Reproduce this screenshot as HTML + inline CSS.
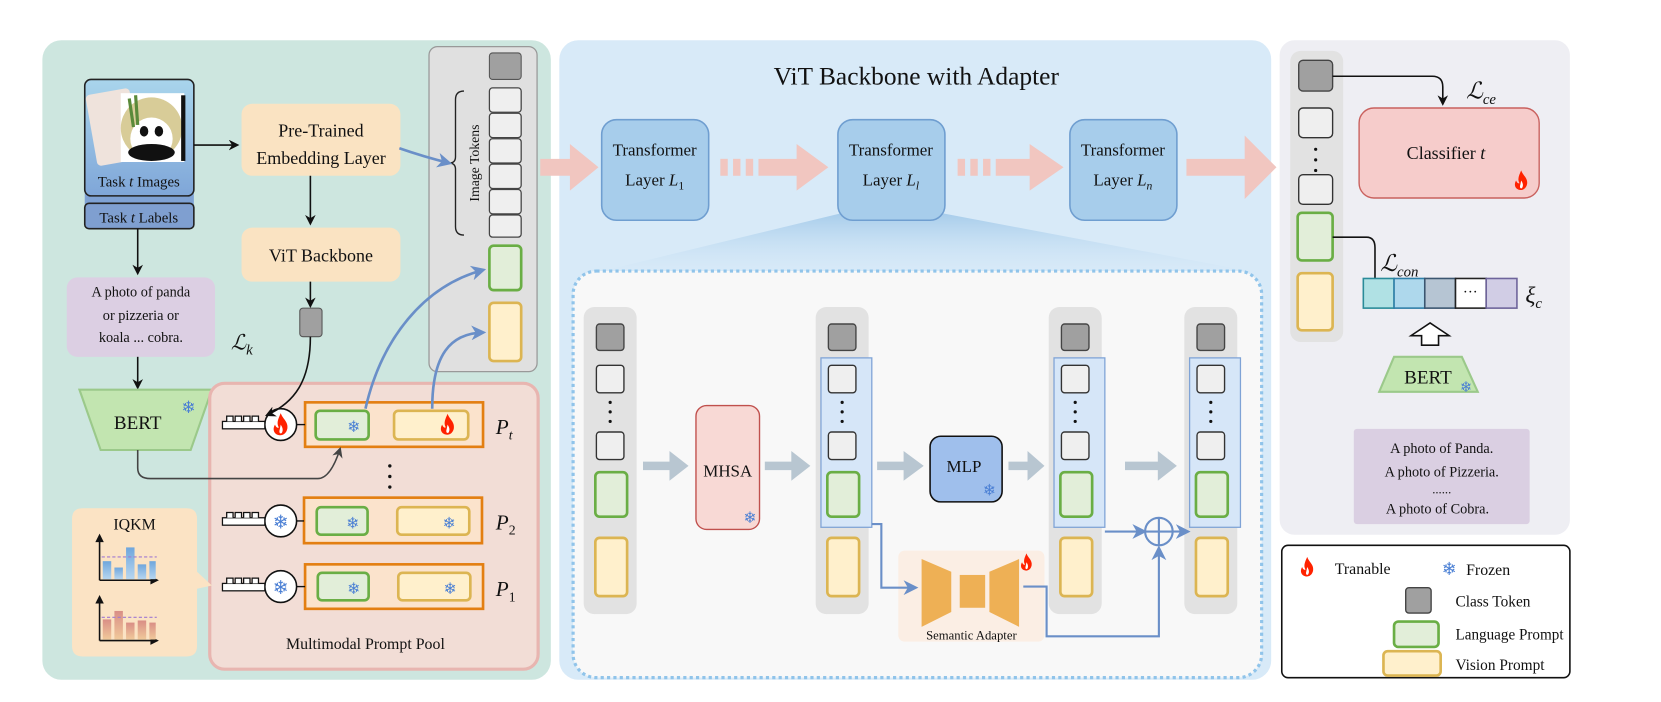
<!DOCTYPE html>
<html><head><meta charset="utf-8"><style>
html,body{margin:0;padding:0;background:#fff;}
svg{display:block;}
text{font-family:"Liberation Serif",serif;fill:#111;}
.sf{fill:#4a7fd4;font-family:"DejaVu Sans",sans-serif;}
</style></head><body>
<svg width="1661" height="702" viewBox="0 0 1568 663" preserveAspectRatio="none" xmlns="http://www.w3.org/2000/svg">
<defs>
<symbol id="fire" viewBox="0 0 20 24"><path d="M10 0 C12 6 18 9 17 16 C16 22 11 24 8 23 C3 22 1 17 4 12 C5 15 7 16 8 15 C5 10 8 5 10 0Z" fill="#f20"/><path d="M10 12 C12 15 13 18 11 21 C9 22 8 20 9 17Z" fill="#fff"/></symbol>
<marker id="ah" markerWidth="10" markerHeight="10" refX="8" refY="5" orient="auto" markerUnits="userSpaceOnUse"><path d="M0 0 L10 5 L0 10 L3 5Z" fill="#111"/></marker>
<marker id="ahb" markerWidth="14" markerHeight="14" refX="11" refY="7" orient="auto" markerUnits="userSpaceOnUse"><path d="M0 0 L14 7 L0 14 L4 7Z" fill="#6a8fc8"/></marker>
<marker id="ahg" markerWidth="10" markerHeight="10" refX="8" refY="5" orient="auto" markerUnits="userSpaceOnUse"><path d="M0 0 L10 5 L0 10 L3 5Z" fill="#444"/></marker>
<linearGradient id="imgG" x1="0" y1="0" x2="0" y2="1"><stop offset="0" stop-color="#a9d5ec"/><stop offset="1" stop-color="#7fa6d8"/></linearGradient>
<linearGradient id="fun" x1="0" y1="0" x2="0" y2="1"><stop offset="0" stop-color="#a5cbea"/><stop offset="1" stop-color="#d8eaf8" stop-opacity="0.3"/></linearGradient>
<linearGradient id="bar1" x1="0" y1="0" x2="0" y2="1"><stop offset="0" stop-color="#6fa6dc"/><stop offset="1" stop-color="#b7d6f0"/></linearGradient>
<linearGradient id="bar2" x1="0" y1="0" x2="0" y2="1"><stop offset="0" stop-color="#d98e86"/><stop offset="1" stop-color="#f0c99a"/></linearGradient>
</defs>

<!-- panels -->
<rect x="40" y="38" width="480" height="604" rx="18" fill="#cde6df"/>
<rect x="528" y="38" width="672" height="604" rx="18" fill="#d8eaf8"/>
<rect x="1208" y="38" width="274" height="467" rx="14" fill="#eeeef3"/>
<rect x="1210" y="515" width="272" height="125" rx="6" fill="#fff" stroke="#111" stroke-width="1.5"/>

<!-- ===== LEFT ===== -->
<rect x="80" y="176" width="103" height="22" fill="#7fa2d4"/>
<rect x="80" y="75" width="103" height="110" rx="6" fill="url(#imgG)" stroke="#222" stroke-width="1.5"/>
<rect x="86" y="86" width="42" height="68" rx="4" fill="#efe3dc" transform="rotate(-10 107 120)"/>
<rect x="114" y="88" width="60" height="65" fill="#fff"/>
<circle cx="143" cy="121" r="29" fill="#d8cc98"/>
<circle cx="143" cy="131" r="20" fill="#fff"/>
<ellipse cx="143" cy="144" rx="22" ry="8" fill="#111"/>
<ellipse cx="136" cy="124" rx="4" ry="5" fill="#111"/>
<ellipse cx="150" cy="124" rx="4" ry="5" fill="#111"/>
<path d="M122 93 L126 120 M128 90 L130 118" stroke="#5a8a3a" stroke-width="3"/>
<rect x="171" y="90" width="4" height="62" fill="#111"/>
<text x="131" y="176" font-size="14" text-anchor="middle">Task <tspan font-style="italic">t</tspan> Images</text>
<rect x="80" y="192" width="103" height="24" rx="4" fill="#7f9fd0" stroke="#222" stroke-width="1.5"/>
<text x="131" y="210" font-size="14" text-anchor="middle">Task <tspan font-style="italic">t</tspan> Labels</text>

<line x1="183" y1="137" x2="224" y2="137" stroke="#111" stroke-width="1.5" marker-end="url(#ah)"/>
<rect x="228" y="98" width="150" height="68" rx="10" fill="#fae3c2"/>
<text x="303" y="129" font-size="17" text-anchor="middle">Pre-Trained</text>
<text x="303" y="155" font-size="17" text-anchor="middle">Embedding Layer</text>
<line x1="293" y1="166" x2="293" y2="211" stroke="#111" stroke-width="1.5" marker-end="url(#ah)"/>
<rect x="228" y="215" width="150" height="51" rx="10" fill="#fae3c2"/>
<text x="303" y="247" font-size="17" text-anchor="middle">ViT Backbone</text>
<line x1="293" y1="266" x2="293" y2="289" stroke="#111" stroke-width="1.5" marker-end="url(#ah)"/>
<rect x="283" y="291" width="21" height="27" rx="3" fill="#a0a0a0" stroke="#555"/>

<line x1="130" y1="216" x2="130" y2="258" stroke="#111" stroke-width="1.5" marker-end="url(#ah)"/>
<rect x="63" y="262" width="140" height="75" rx="10" fill="#dccfe3"/>
<text x="133" y="280" font-size="13.5" text-anchor="middle">A photo of panda</text>
<text x="133" y="302" font-size="13.5" text-anchor="middle">or pizzeria or</text>
<text x="133" y="323" font-size="13.5" text-anchor="middle">koala ... cobra.</text>
<line x1="130" y1="337" x2="130" y2="366" stroke="#111" stroke-width="1.5" marker-end="url(#ah)"/>
<polygon points="75,368 200,368 180,425 95,425" fill="#c2e5b0" stroke="#9bc98a" stroke-width="2"/>
<text x="130" y="405" font-size="18" text-anchor="middle">BERT</text>
<text x="178" y="390" font-size="16" class="sf" text-anchor="middle">❄</text>

<text x="218" y="330" font-size="20" font-style="italic">ℒ<tspan font-size="14" dy="5">k</tspan></text>

<!-- token panel -->
<rect x="405" y="44" width="102" height="307" rx="8" fill="#e0e0e0" stroke="#999" stroke-width="1.2"/>
<rect x="462" y="50" width="30" height="25" rx="3" fill="#a0a0a0" stroke="#555"/>
<g fill="#efefef" stroke="#444" stroke-width="1.2">
<rect x="462" y="83" width="30" height="23" rx="3"/><rect x="462" y="107" width="30" height="23" rx="3"/>
<rect x="462" y="131" width="30" height="23" rx="3"/><rect x="462" y="155" width="30" height="23" rx="3"/>
<rect x="462" y="179" width="30" height="23" rx="3"/><rect x="462" y="203" width="30" height="21" rx="3"/>
</g>
<path d="M438 86 Q430 86 430 94 V148 Q430 154 424 154 Q430 154 430 160 V214 Q430 222 438 222" fill="none" stroke="#222" stroke-width="1.3"/>
<text x="0" y="0" font-size="13" text-anchor="middle" transform="translate(452 154) rotate(-90)">Image   Tokens</text>
<rect x="462" y="232" width="30" height="42" rx="4" fill="#e2eed9" stroke="#6aae45" stroke-width="2.5"/>
<rect x="462" y="286" width="30" height="55" rx="4" fill="#fff0cc" stroke="#dcb552" stroke-width="2.5"/>
<path d="M377 140 Q400 148 424 154" fill="none" stroke="#6a8fc8" stroke-width="2.5" marker-end="url(#ahb)"/>

<!-- prompt pool -->
<rect x="198" y="362" width="310" height="270" rx="14" fill="#f2ddd6" stroke="#e8b5b0" stroke-width="3"/>
<rect x="288" y="380" width="168" height="42" fill="#fbe3cc" stroke="#e37f12" stroke-width="2.5"/>
<rect x="298" y="388" width="50" height="27" rx="4" fill="#e2eed9" stroke="#6aae45" stroke-width="2.5"/>
<rect x="372" y="388" width="70" height="27" rx="4" fill="#fff0cc" stroke="#dcb552" stroke-width="2.5"/>
<text x="334" y="408" font-size="15" class="sf" text-anchor="middle">❄</text>
<use href="#fire" x="414" y="390" width="17" height="22"/>
<line x1="280" y1="401" x2="288" y2="401" stroke="#111" stroke-width="1.3"/>
<circle cx="265" cy="401" r="15" fill="#fff" stroke="#111" stroke-width="1.5"/>
<use href="#fire" x="256" y="390" width="18" height="22"/>
<rect x="210" y="398" width="40" height="7" fill="#fff" stroke="#111" stroke-width="1.2"/>
<path d="M214 398 v-5 h6 v5 M222 398 v-5 h6 v5 M230 398 v-5 h6 v5 M238 398 v-5 h6 v5" fill="#fff" stroke="#111" stroke-width="1.2"/>

<circle cx="368" cy="440" r="1.6" fill="#111"/><circle cx="368" cy="450" r="1.6" fill="#111"/><circle cx="368" cy="460" r="1.6" fill="#111"/>

<g transform="translate(-1 90)">
<rect x="288" y="380" width="168" height="43" fill="#fbe3cc" stroke="#e37f12" stroke-width="2.5"/>
<rect x="300" y="389" width="48" height="26" rx="4" fill="#e2eed9" stroke="#6aae45" stroke-width="2.5"/>
<rect x="376" y="389" width="68" height="26" rx="4" fill="#fff0cc" stroke="#dcb552" stroke-width="2.5"/>
<text x="334" y="409" font-size="15" class="sf" text-anchor="middle">❄</text>
<text x="425" y="409" font-size="15" class="sf" text-anchor="middle">❄</text>
<line x1="280" y1="402" x2="288" y2="402" stroke="#111" stroke-width="1.3"/>
<circle cx="266" cy="402" r="15" fill="#fff" stroke="#111" stroke-width="1.5"/>
<text x="266" y="409" font-size="18" class="sf" text-anchor="middle">❄</text>
<rect x="211" y="399" width="40" height="7" fill="#fff" stroke="#111" stroke-width="1.2"/>
<path d="M215 399 v-5 h6 v5 M223 399 v-5 h6 v5 M231 399 v-5 h6 v5 M239 399 v-5 h6 v5" fill="#fff" stroke="#111" stroke-width="1.2"/>
</g>
<g transform="translate(0 153)">
<rect x="288" y="380" width="168" height="42" fill="#fbe3cc" stroke="#e37f12" stroke-width="2.5"/>
<rect x="300" y="388" width="48" height="26" rx="4" fill="#e2eed9" stroke="#6aae45" stroke-width="2.5"/>
<rect x="376" y="388" width="68" height="26" rx="4" fill="#fff0cc" stroke="#dcb552" stroke-width="2.5"/>
<text x="334" y="408" font-size="15" class="sf" text-anchor="middle">❄</text>
<text x="425" y="408" font-size="15" class="sf" text-anchor="middle">❄</text>
<line x1="280" y1="401" x2="288" y2="401" stroke="#111" stroke-width="1.3"/>
<circle cx="265" cy="401" r="15" fill="#fff" stroke="#111" stroke-width="1.5"/>
<text x="265" y="408" font-size="18" class="sf" text-anchor="middle">❄</text>
<rect x="210" y="398" width="40" height="7" fill="#fff" stroke="#111" stroke-width="1.2"/>
<path d="M214 398 v-5 h6 v5 M222 398 v-5 h6 v5 M230 398 v-5 h6 v5 M238 398 v-5 h6 v5" fill="#fff" stroke="#111" stroke-width="1.2"/>
</g>
<text x="468" y="410" font-size="20" font-style="italic">P<tspan font-size="13" dy="5">t</tspan></text>
<text x="468" y="500" font-size="20" font-style="italic">P<tspan font-size="13" dy="5" font-style="normal">2</tspan></text>
<text x="468" y="563" font-size="20" font-style="italic">P<tspan font-size="13" dy="5" font-style="normal">1</tspan></text>
<text x="345" y="613" font-size="15" text-anchor="middle">Multimodal Prompt Pool</text>

<!-- connectors over pool -->
<path d="M293 318 C293 360 278 380 252 392" fill="none" stroke="#111" stroke-width="1.5" marker-end="url(#ah)"/>
<path d="M130 425 V442 Q130 452 142 452 H300 Q312 452 321 424" fill="none" stroke="#444" stroke-width="1.5" marker-end="url(#ahg)"/>
<path d="M345 386 C360 320 400 270 456 255" fill="none" stroke="#6a8fc8" stroke-width="2.5" marker-end="url(#ahb)"/>
<path d="M408 386 C408 335 425 315 456 314" fill="none" stroke="#6a8fc8" stroke-width="2.5" marker-end="url(#ahb)"/>

<!-- IQKM -->
<path d="M78 480 H176 Q186 480 186 490 V540 L200 553 L186 556 V610 Q186 620 176 620 H78 Q68 620 68 610 V490 Q68 480 78 480Z" fill="#fbe3c4"/>
<text x="127" y="500" font-size="15" text-anchor="middle">IQKM</text>
<g stroke="#111" stroke-width="1.5" fill="none">
<path d="M94 548 V508 M94 548 H146" /><path d="M94 605 V566 M94 605 H146"/>
</g>
<path d="M90 512 L94 504 L98 512Z M142 544 L150 548 L142 552Z M90 570 L94 562 L98 570Z M142 601 L150 605 L142 609Z" fill="#111"/>
<rect x="97" y="530" width="8" height="17" fill="url(#bar1)"/><rect x="108" y="536" width="8" height="11" fill="url(#bar1)"/>
<rect x="119" y="517" width="8" height="30" fill="url(#bar1)"/><rect x="130" y="533" width="8" height="14" fill="url(#bar1)"/>
<rect x="141" y="530" width="6" height="17" fill="url(#bar1)"/>
<line x1="96" y1="526" x2="148" y2="526" stroke="#a07ad0" stroke-dasharray="3 2"/>
<rect x="97" y="585" width="8" height="19" fill="url(#bar2)"/><rect x="108" y="577" width="8" height="27" fill="url(#bar2)"/>
<rect x="119" y="588" width="8" height="16" fill="url(#bar2)"/><rect x="130" y="586" width="8" height="18" fill="url(#bar2)"/>
<rect x="141" y="588" width="6" height="16" fill="url(#bar2)"/>
<line x1="96" y1="583" x2="148" y2="583" stroke="#a07ad0" stroke-dasharray="3 2"/>

<!-- ===== MIDDLE ===== -->
<text x="865" y="80" font-size="24" text-anchor="middle">ViT Backbone with Adapter</text>
<polygon points="800,200 882,200 1190,258 560,258" fill="url(#fun)"/>
<g fill="#a7cdeb" stroke="#6f9ed0" stroke-width="1.5">
<rect x="568" y="113" width="101" height="95" rx="14"/>
<rect x="791" y="113" width="101" height="95" rx="14"/>
<rect x="1010" y="113" width="101" height="95" rx="14"/>
</g>
<text x="618" y="147" font-size="16" text-anchor="middle">Transformer</text>
<text x="618" y="175" font-size="16" text-anchor="middle">Layer <tspan font-style="italic">L</tspan><tspan font-size="11" dy="4">1</tspan></text>
<text x="841" y="147" font-size="16" text-anchor="middle">Transformer</text>
<text x="841" y="175" font-size="16" text-anchor="middle">Layer <tspan font-style="italic">L</tspan><tspan font-size="11" dy="4" font-style="italic">l</tspan></text>
<text x="1060" y="147" font-size="16" text-anchor="middle">Transformer</text>
<text x="1060" y="175" font-size="16" text-anchor="middle">Layer <tspan font-style="italic">L</tspan><tspan font-size="11" dy="4" font-style="italic">n</tspan></text>
<g fill="#f1c6c0">
<polygon points="510,150 538,150 538,136 565,158 538,180 538,166 510,166"/>
<rect x="680" y="150" width="7" height="16"/><rect x="692" y="150" width="7" height="16"/><rect x="704" y="150" width="7" height="16"/>
<polygon points="716,150 752,150 752,136 782,158 752,180 752,166 716,166"/>
<rect x="904" y="150" width="7" height="16"/><rect x="916" y="150" width="7" height="16"/><rect x="928" y="150" width="7" height="16"/>
<polygon points="940,150 972,150 972,136 1004,158 972,180 972,166 940,166"/>
<polygon points="1120,150 1175,150 1175,128 1205,158 1175,188 1175,166 1120,166"/>
</g>

<rect x="541" y="256" width="650" height="384" rx="22" fill="#f8f8f8" stroke="#90c4ea" stroke-width="3" stroke-dasharray="3 3"/>
<g fill="#e2e2e2"><rect x="551" y="290" width="50" height="290" rx="10"/><rect x="770" y="290" width="50" height="290" rx="10"/><rect x="990" y="290" width="50" height="290" rx="10"/><rect x="1118" y="290" width="50" height="290" rx="10"/></g>
<g fill="#d6e6f8" stroke="#7fa3d6" stroke-width="1.2"><rect x="775" y="338" width="48" height="160"/><rect x="995" y="338" width="48" height="160"/><rect x="1123" y="338" width="48" height="160"/></g>
<g id="c1">
<rect x="563" y="306" width="26" height="25" rx="3" fill="#a0a0a0" stroke="#444" stroke-width="1.3"/>
<rect x="563" y="345" width="26" height="26" rx="3" fill="#efefef" stroke="#333" stroke-width="1.3"/>
<circle cx="576" cy="380" r="1.5" fill="#111"/><circle cx="576" cy="389" r="1.5" fill="#111"/><circle cx="576" cy="398" r="1.5" fill="#111"/>
<rect x="563" y="408" width="26" height="26" rx="3" fill="#efefef" stroke="#333" stroke-width="1.3"/>
<rect x="562" y="446" width="30" height="42" rx="4" fill="#e2eed9" stroke="#6aae45" stroke-width="2.5"/>
<rect x="562" y="508" width="30" height="55" rx="4" fill="#fff0cc" stroke="#dcb552" stroke-width="2.5"/>
</g>
<use href="#c1" x="219"/><use href="#c1" x="439"/><use href="#c1" x="567"/>

<rect x="657" y="383" width="60" height="117" rx="10" fill="#f8d9d5" stroke="#c0504d" stroke-width="1.3"/>
<text x="687" y="450" font-size="16" text-anchor="middle">MHSA</text>
<text x="708" y="494" font-size="15" class="sf" text-anchor="middle">❄</text>
<rect x="878" y="412" width="68" height="62" rx="10" fill="#9fbfec" stroke="#111" stroke-width="1.5"/>
<text x="910" y="446" font-size="16" text-anchor="middle">MLP</text>
<text x="934" y="468" font-size="15" class="sf" text-anchor="middle">❄</text>
<g fill="#b8c6d1">
<polygon points="607,436 632,436 632,426 650,440 632,454 632,444 607,444"/>
<polygon points="722,436 747,436 747,426 765,440 747,454 747,444 722,444"/>
<polygon points="828,436 853,436 853,426 872,440 853,454 853,444 828,444"/>
<polygon points="952,436 970,436 970,426 986,440 970,454 970,444 952,444"/>
<polygon points="1062,436 1093,436 1093,426 1111,440 1093,454 1093,444 1062,444"/>
</g>
<rect x="848" y="520" width="138" height="86" rx="6" fill="#fbeee4"/>
<g fill="#eeb055"><polygon points="870,528 898,540 898,578 870,592"/><rect x="906" y="543" width="24" height="31"/><polygon points="962,528 934,540 934,578 962,592"/></g>
<text x="917" y="604" font-size="12" text-anchor="middle">Semantic Adapter</text>
<use href="#fire" x="962" y="522" width="14" height="18"/>
<g fill="none" stroke="#6a8fc8" stroke-width="2">
<path d="M823 495 H832 V555 H864" marker-end="url(#ahb)"/>
<path d="M966 554 H988 V601 H1094 V518" marker-end="url(#ahb)"/>
<path d="M1043 502 H1080" marker-end="url(#ahb)"/>
<path d="M1107 502 H1121" marker-end="url(#ahb)"/>
<circle cx="1094" cy="502" r="13"/><path d="M1081 502 H1107 M1094 489 V515"/>
</g>

<!-- ===== RIGHT ===== -->
<rect x="1218" y="48" width="50" height="275" rx="10" fill="#e2e2e2"/>
<rect x="1226" y="57" width="32" height="29" rx="4" fill="#a0a0a0" stroke="#444" stroke-width="1.3"/>
<rect x="1226" y="102" width="32" height="28" rx="4" fill="#efefef" stroke="#333" stroke-width="1.3"/>
<circle cx="1242" cy="141" r="1.5" fill="#111"/><circle cx="1242" cy="151" r="1.5" fill="#111"/><circle cx="1242" cy="161" r="1.5" fill="#111"/>
<rect x="1226" y="165" width="32" height="28" rx="4" fill="#efefef" stroke="#333" stroke-width="1.3"/>
<rect x="1225" y="201" width="33" height="45" rx="4" fill="#e2eed9" stroke="#6aae45" stroke-width="2.5"/>
<rect x="1225" y="258" width="33" height="54" rx="4" fill="#fff0cc" stroke="#dcb552" stroke-width="2.5"/>
<path d="M1258 72 H1352 Q1362 72 1362 82 V98" fill="none" stroke="#111" stroke-width="1.5" marker-end="url(#ah)"/>
<text x="1384" y="93" font-size="22" font-style="italic">ℒ<tspan font-size="14" dy="5">ce</tspan></text>
<rect x="1283" y="102" width="170" height="85" rx="14" fill="#f6cccb" stroke="#c9615e" stroke-width="1.3"/>
<text x="1365" y="150" font-size="17" text-anchor="middle">Classifier <tspan font-style="italic">t</tspan></text>
<use href="#fire" x="1428" y="160" width="16" height="21"/>
<path d="M1258 224 H1290 Q1298 224 1298 234 V263" fill="none" stroke="#111" stroke-width="1.5"/>
<text x="1303" y="256" font-size="22" font-style="italic">ℒ<tspan font-size="14" dy="5">con</tspan></text>
<g stroke-width="1.5">
<rect x="1287" y="263" width="29" height="28" fill="#b0e1e4" stroke="#2a8b99"/>
<rect x="1316" y="263" width="29" height="28" fill="#aed8ec" stroke="#2f7fa8"/>
<rect x="1345" y="263" width="29" height="28" fill="#b6c5d3" stroke="#3b5670"/>
<rect x="1374" y="263" width="29" height="28" fill="#fff" stroke="#222"/>
<rect x="1403" y="263" width="29" height="28" fill="#d1cde5" stroke="#6e649b"/>
</g>
<text x="1388" y="280" font-size="14" text-anchor="middle">···</text>
<text x="1440" y="286" font-size="22" font-style="italic">ξ<tspan font-size="14" dy="5">c</tspan></text>
<polygon points="1350,305 1368,317 1358,317 1358,326 1342,326 1342,317 1332,317" fill="#fff" stroke="#111" stroke-width="1.5"/>
<polygon points="1316,337 1380,337 1395,370 1302,370" fill="#c2e5b0" stroke="#9bc98a" stroke-width="2"/>
<text x="1348" y="362" font-size="18" text-anchor="middle">BERT</text>
<text x="1384" y="370" font-size="14" class="sf" text-anchor="middle">❄</text>
<rect x="1278" y="405" width="166" height="90" rx="3" fill="#dacfe2"/>
<text x="1361" y="428" font-size="13.5" text-anchor="middle">A photo of Panda.</text>
<text x="1361" y="450" font-size="13.5" text-anchor="middle">A photo of Pizzeria.</text>
<text x="1361" y="466" font-size="12" text-anchor="middle">......</text>
<text x="1357" y="485" font-size="13.5" text-anchor="middle">A photo of Cobra.</text>

<!-- legend -->
<use href="#fire" x="1226" y="525" width="16" height="21"/>
<text x="1260" y="542" font-size="15">Tranable</text>
<text x="1368" y="543" font-size="17" class="sf" text-anchor="middle">❄</text>
<text x="1384" y="543" font-size="15">Frozen</text>
<rect x="1327" y="555" width="24" height="24" rx="3" fill="#a0a0a0" stroke="#444" stroke-width="1.3"/>
<text x="1374" y="573" font-size="14.5">Class Token</text>
<rect x="1316" y="587" width="42" height="24" rx="4" fill="#e2eed9" stroke="#6aae45" stroke-width="2.5"/>
<text x="1374" y="604" font-size="14.5" textLength="102" lengthAdjust="spacingAndGlyphs">Language Prompt</text>
<rect x="1306" y="615" width="54" height="23" rx="4" fill="#fff0cc" stroke="#dcb552" stroke-width="2.5"/>
<text x="1374" y="633" font-size="14.5">Vision Prompt</text>
</svg>
</body></html>
